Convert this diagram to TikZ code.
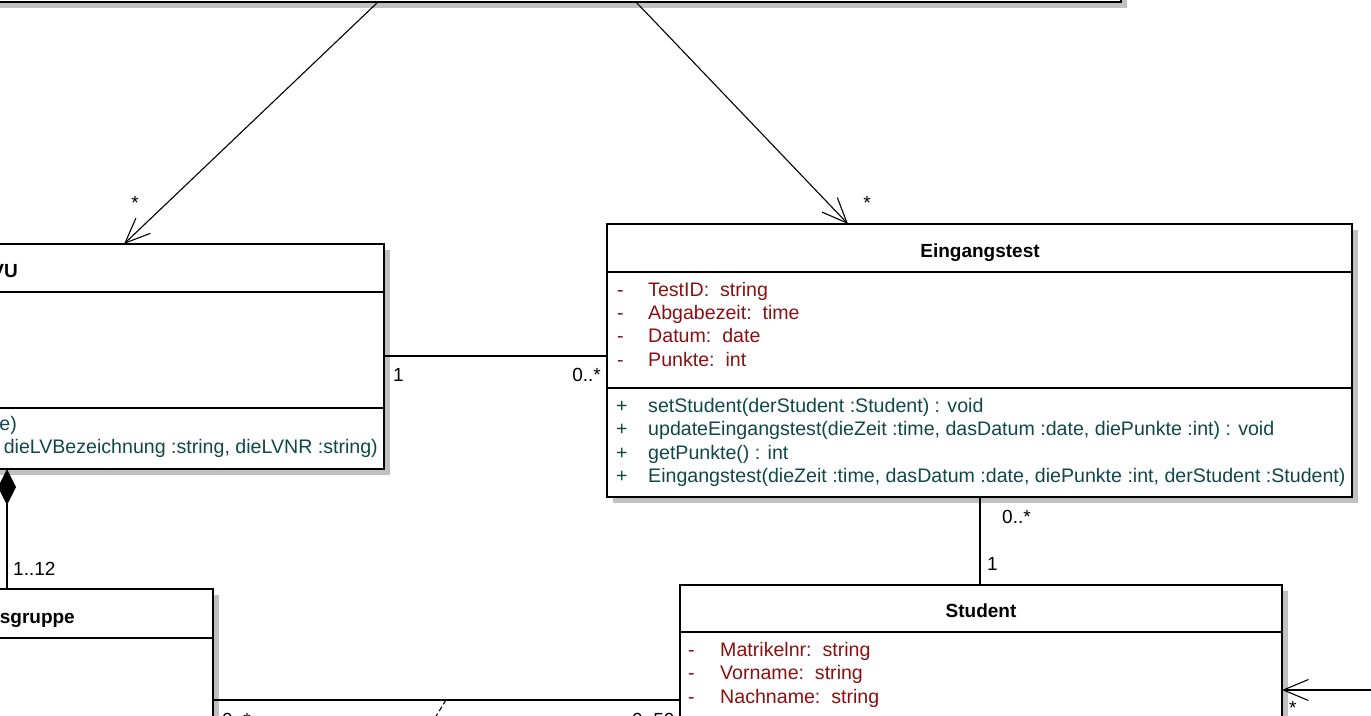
\documentclass[tikz,border=0pt]{standalone}
\usepackage{fontspec}
\setmainfont{Liberation Sans}
\usetikzlibrary{arrows.meta}
\definecolor{attrcol}{RGB}{140,16,16}
\definecolor{methcol}{RGB}{16,72,72}
\definecolor{shadecol}{RGB}{192,192,192}
\begin{document}
\begin{tikzpicture}[x=1pt,y=-1pt,
  every node/.style={font=\fontsize{19}{23}\selectfont},
  box/.style={draw, line width=1.5pt, fill=white, anchor=north west, inner sep=0pt, outer sep=0pt},
  shadowbox/.style={fill=shadecol, anchor=north west, inner sep=0pt, outer sep=0pt},
  sep/.style={line width=1.5pt},
  txt/.style={anchor=base west, inner sep=0pt, font=\fontsize{19.6}{23}\selectfont},
  txte/.style={anchor=base east, inner sep=0pt},
  ttl/.style={anchor=base, inner sep=0pt, font=\fontsize{19}{23}\selectfont\bfseries},
  attrtxt/.style={txt, text=attrcol},
  methtxt/.style={txt, text=methcol},
  conn/.style={line width=1.1pt},
  barb/.style={-{Straight Barb[length=25pt,width=21pt]}},
  mult/.style={anchor=base west, inner sep=0pt}
]
\useasboundingbox (0,0) rectangle (1371,715);

% shadows
\node[shadowbox, minimum width=1141pt, minimum height=102pt] (topS) at (-14,-94) {};
\node[shadowbox, minimum width=684pt, minimum height=225pt] (lvuS) at (-294,250) {};
\node[shadowbox, minimum width=513pt, minimum height=300pt] (ugS) at (-294,595) {};
\node[shadowbox, minimum width=745pt, minimum height=273pt] (eingS) at (613,230) {};
\node[shadowbox, minimum width=602pt, minimum height=400pt] (studS) at (686,591) {};

% boxes
\node[box, minimum width=1141pt, minimum height=102pt] (top) at (-20,-100) {};
\node[box, minimum width=684pt, minimum height=225pt] (lvu) at (-300,244) {};
\node[box, minimum width=513pt, minimum height=300pt] (ug) at (-300,589) {};
\node[box, minimum width=745pt, minimum height=273pt] (eing) at (607,224) {};
\node[box, minimum width=602pt, minimum height=400pt] (stud) at (680,585) {};

% compartments
\draw[sep] (lvu.west |- 0,292) -- (lvu.east |- 0,292);
\draw[sep] (lvu.west |- 0,408) -- (lvu.east |- 0,408);
\draw[sep] (ug.west |- 0,638) -- (ug.east |- 0,638);
\draw[sep] (eing.west |- 0,272) -- (eing.east |- 0,272);
\draw[sep] (eing.west |- 0,388) -- (eing.east |- 0,388);
\draw[sep] (stud.west |- 0,632) -- (stud.east |- 0,632);

% LVU texts
\node[ttl, anchor=base east] (lvuT) at (18,277) {LVU};
\node[txte, text=methcol, font=\fontsize{19.6}{23}\selectfont] (lvuM1) at (17,430) {e)};
\node[txte, text=methcol, font=\fontsize{19.6}{23}\selectfont] (lvuM2) at (378,453) {dieLVBezeichnung :string, dieLVNR :string)};

% Uebungsgruppe
\node[ttl, anchor=base east] (ugT) at (75,623) {Übungsgruppe};

% Eingangstest
\node[ttl] (eingT) at (980,257) {Eingangstest};
\node[attrtxt] (ea1d) at (617,296) {-};
\node[attrtxt] (ea1) at (648,296) {TestID:\ \ string};
\node[attrtxt] (ea2d) at (617,319) {-};
\node[attrtxt] (ea2) at (648,319) {Abgabezeit:\ \ time};
\node[attrtxt] (ea3d) at (617,342) {-};
\node[attrtxt] (ea3) at (648,342) {Datum:\ \ date};
\node[attrtxt] (ea4d) at (617,366) {-};
\node[attrtxt] (ea4) at (648,366) {Punkte:\ \ int};
\node[methtxt] (em1p) at (616,412) {+};
\node[methtxt] (em1) at (648,412) {setStudent(derStudent :Student) : void};
\node[methtxt] (em2p) at (616,435) {+};
\node[methtxt] (em2) at (648,435) {updateEingangstest(dieZeit :time, dasDatum :date, diePunkte :int) : void};
\node[methtxt] (em3p) at (616,459) {+};
\node[methtxt] (em3) at (648,459) {getPunkte() : int};
\node[methtxt] (em4p) at (616,482) {+};
\node[methtxt] (em4) at (648,482) {Eingangstest(dieZeit :time, dasDatum :date, diePunkte :int, derStudent :Student)};

% Student
\node[ttl] (studT) at (981,617) {Student};
\node[attrtxt] (sa1d) at (688,656) {-};
\node[attrtxt] (sa1) at (720,656) {Matrikelnr:\ \ string};
\node[attrtxt] (sa2d) at (688,679) {-};
\node[attrtxt] (sa2) at (720,679) {Vorname:\ \ string};
\node[attrtxt] (sa3d) at (688,703) {-};
\node[attrtxt] (sa3) at (720,703) {Nachname:\ \ string};

% connectors
\coordinate (topL) at (top.south -| 378,0);
\coordinate (topR) at (top.south -| 636,0);
\draw[conn,barb] (topL) -- (lvu.north -| 124,0);
\draw[conn,barb] (topR) -- (eing.north -| 848,0);
\draw[conn] (lvu.east |- 0,356) -- (eing.west |- 0,356);
\draw[conn] (eing.south -| 980,0) -- (stud.north -| 980,0);
\draw[conn,{Diamond[length=36pt,width=18pt]}-] (lvu.south -| 7,0) -- (ug.north -| 7,0);
\draw[conn] (ug.east |- 0,700) -- (stud.west |- 0,700);
\coordinate (noteA) at (446,700);
\coordinate (noteB) at (430,726);
\draw[conn, dash pattern=on 5pt off 3pt] (noteA) -- (noteB);
\coordinate (rightEnd) at (1380,690);
\draw[conn,barb] (rightEnd) -- (stud.east |- 0,690);

% multiplicities
\node[anchor=base, inner sep=0pt] (m1) at (135,209) {*};
\node[anchor=base, inner sep=0pt] (m2) at (867,209) {*};
\node[mult] (m3) at (393,381) {1};
\node[txte] (m4) at (601,381) {0..*};
\node[mult] (m5) at (1002,523) {0..*};
\node[mult] (m6) at (987,570) {1};
\node[mult] (m7) at (13,575) {1..12};
\node[mult] (m8) at (222,726) {0..*};
\node[mult] (m9) at (632,726) {0..50};
\node[mult] (m10) at (1289,714) {*};
\end{tikzpicture}
\end{document}
